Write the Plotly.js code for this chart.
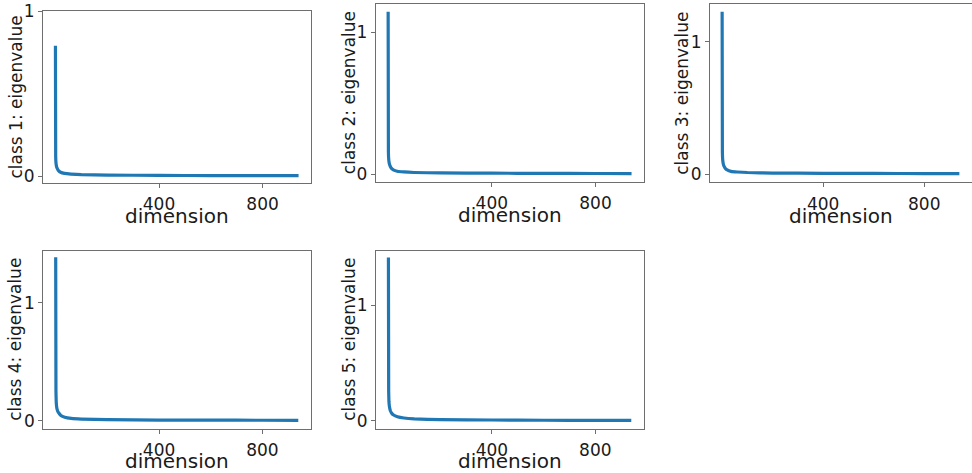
<!DOCTYPE html>
<html>
<head>
<meta charset="utf-8">
<script src="https://cdn.plot.ly/plotly-3.0.1.min.js"></script>
<style>html,body{margin:0;padding:0;background:#fff;}#chart{width:972px;height:473px;}</style>
</head>
<body>
<div id="chart"></div>
<script>
const dims = [0, 1, 2, 3, 5, 8, 12, 20, 35, 60, 100, 200, 400, 600, 800, 939];
const class1 = [0.79, 0.12, 0.085, 0.07, 0.055, 0.045, 0.035, 0.025, 0.018, 0.014, 0.011, 0.008, 0.006, 0.005, 0.004, 0.004];
const class2 = [1.145, 0.16, 0.11, 0.09, 0.07, 0.055, 0.042, 0.03, 0.02, 0.015, 0.011, 0.008, 0.006, 0.005, 0.004, 0.003];
const class3 = [1.227, 0.17, 0.115, 0.095, 0.074, 0.058, 0.045, 0.032, 0.021, 0.016, 0.012, 0.008, 0.006, 0.005, 0.004, 0.003];
const class4 = [1.385, 0.25, 0.16, 0.13, 0.1, 0.08, 0.065, 0.045, 0.03, 0.02, 0.014, 0.009, 0.006, 0.005, 0.004, 0.003];
const class5 = [1.416, 0.26, 0.17, 0.14, 0.11, 0.085, 0.068, 0.05, 0.035, 0.024, 0.016, 0.01, 0.007, 0.005, 0.004, 0.003];
const seriesNames = ["class 1", "class 2", "class 3", "class 4", "class 5"];
const seriesValues = [class1, class2, class3, class4, class5];
const xTickVals = [400, 800];
const yTickVals = [0, 1];
const xTitle = "dimension";
const yTitleSuffix = ": eigenvalue";

const W = 972, H = 473;
// panel boxes in pixels [left, right, top, bottom]
const boxes = [
  [43, 311, 11, 183],
  [375.7, 644, 4.3, 182],
  [710, 971.5, 4.3, 182.3],
  [43.3, 310.7, 250.7, 429],
  [376, 643.7, 250.7, 429]
];
const yRanges = [[-0.04, 1.0], [-0.056, 1.198], [-0.062, 1.283], [-0.07, 1.44], [-0.071, 1.474]];
const xRange = [-48, 987];
// title centres in pixels
const yTitleX = [15.5, 349, 682.5, 15, 349];
const xTitleGap = [33.5, 33.5, 33.5, 32, 32];

const lineCol = "#1f77b4";
const textCol = "#1a1a1a";
const frameCol = "#6e6e6e";
const font = "DejaVu Sans, sans-serif";

const traces = [];
const annotations = [];
const layout = {
  width: W, height: H,
  margin: {l: 0, r: 0, t: 0, b: 0},
  paper_bgcolor: "#fff", plot_bgcolor: "#fff",
  showlegend: false,
  font: {family: font, color: textCol}
};

seriesValues.forEach((vals, i) => {
  const n = i + 1;
  const xa = n === 1 ? "x" : "x" + n;
  const ya = n === 1 ? "y" : "y" + n;
  traces.push({
    type: "scatter", mode: "lines",
    x: dims, y: vals, xaxis: xa, yaxis: ya,
    name: seriesNames[i],
    line: {color: lineCol, width: 3.2, shape: "spline", smoothing: 0.4},
    hoverinfo: "x+y"
  });
  const b = boxes[i];
  const xKey = n === 1 ? "xaxis" : "xaxis" + n;
  const yKey = n === 1 ? "yaxis" : "yaxis" + n;
  layout[xKey] = {
    domain: [b[0] / W, b[1] / W],
    anchor: ya,
    range: xRange,
    tickmode: "array", tickvals: xTickVals, ticktext: xTickVals.map(String),
    ticks: "outside", ticklen: 4, tickwidth: 1, tickcolor: frameCol,
    ticklabelstandoff: 2,
    tickfont: {family: font, size: 17, color: textCol},
    showline: true, mirror: true, linecolor: frameCol, linewidth: 1,
    showgrid: false, zeroline: false
  };
  layout[yKey] = {
    domain: [1 - b[3] / H, 1 - b[2] / H],
    anchor: xa,
    range: yRanges[i],
    tickmode: "array", tickvals: yTickVals, ticktext: yTickVals.map(String),
    ticks: "outside", ticklen: 4, tickwidth: 1, tickcolor: frameCol,
    tickfont: {family: font, size: 17, color: textCol},
    showline: true, mirror: true, linecolor: frameCol, linewidth: 1,
    showgrid: false, zeroline: false
  };
  // axis titles
  annotations.push({
    text: xTitle, xref: "paper", yref: "paper",
    x: (b[0] + b[1]) / 2 / W, y: 1 - (b[3] + xTitleGap[i]) / H,
    xanchor: "center", yanchor: "middle", showarrow: false, borderpad: 0,
    font: {family: font, size: 20, color: textCol}
  });
  annotations.push({
    text: seriesNames[i] + yTitleSuffix, xref: "paper", yref: "paper",
    x: yTitleX[i] / W, y: 1 - (b[2] + b[3]) / 2 / H,
    xanchor: "center", yanchor: "middle", textangle: -90, showarrow: false, borderpad: 0,
    font: {family: font, size: 17, color: textCol}
  });
});
layout.annotations = annotations;

Plotly.newPlot("chart", traces, layout, {displayModeBar: false, staticPlot: true});
</script>
</body>
</html>
